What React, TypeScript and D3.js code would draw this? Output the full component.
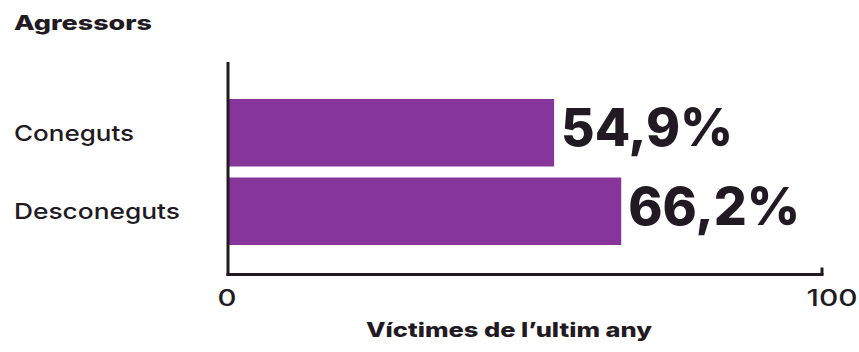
import React from "react";
import * as d3 from "d3";

const categories = ["Coneguts", "Desconeguts"];
const values = [54.9, 66.2];
const valueLabels = ["54,9%", "66,2%"];
const xTicks = [0, 100];
const title = "Agressors";
const xTitle = "Víctimes de l’ultim any";

const W = 859;
const H = 352;
const TEXT = "#221a22";
const BAR = "#86369b";
const FONT = "Inter, 'Liberation Sans', sans-serif";

export default function App() {
  const x = d3.scaleLinear().domain([0, 100]).range([228, 822]);
  const y = d3.scaleBand<string>().domain(categories).range([99, 245]).paddingInner(0.14).paddingOuter(0);
  const axisY = 274.5;
  const catWidths = [120, 166];
  const valWidths = [172, 172];
  const tickWidths: Record<number, number> = { 0: 19, 100: 51 };
  const tickCenters: Record<number, number> = { 0: 227, 100: 832 };
  return (
    <div style={{ position: "absolute", left: 0, top: 0 }}>
      <svg width={W} height={H} style={{ display: "block", background: "#fff" }} fontFamily={FONT}>
        <text x={14} y={30} fontSize={20} fontWeight={800} fill={TEXT} textLength={138} lengthAdjust="spacingAndGlyphs">
          {title}
        </text>
        {categories.map((c, i) => (
          <g key={c}>
            <rect x={x(0)} y={y(c)} width={x(values[i]) - x(0)} height={y.bandwidth()} fill={BAR} />
            <text x={14} y={(y(c) as number) + y.bandwidth() / 2 + 8} fontSize={22} fontWeight={500} fill={TEXT}
              textLength={catWidths[i]} lengthAdjust="spacingAndGlyphs">
              {c}
            </text>
            <text x={x(values[i]) + 7} y={(y(c) as number) + y.bandwidth() / 2 + 13.5} fontSize={52} fontWeight={800}
              fill={TEXT} textLength={valWidths[i]} lengthAdjust="spacingAndGlyphs">
              {valueLabels[i]}
            </text>
          </g>
        ))}
        <line x1={x(0)} x2={x(0)} y1={62} y2={axisY + 1.5} stroke={TEXT} strokeWidth={3} />
        <line x1={x(0) - 1.5} x2={x(100) + 1.5} y1={axisY} y2={axisY} stroke={TEXT} strokeWidth={3} />
        <line x1={x(100)} x2={x(100)} y1={axisY - 7} y2={axisY} stroke={TEXT} strokeWidth={3} />
        {xTicks.map((t) => (
          <text key={t} x={tickCenters[t] - tickWidths[t] / 2} y={306} fontSize={23} fontWeight={500} fill={TEXT}
            textLength={tickWidths[t]} lengthAdjust="spacingAndGlyphs">
            {t}
          </text>
        ))}
        <text x={509} y={337} fontSize={20} fontWeight={800} fill={TEXT} textAnchor="middle"
          textLength={286} lengthAdjust="spacingAndGlyphs">
          {xTitle}
        </text>
      </svg>
    </div>
  );
}
